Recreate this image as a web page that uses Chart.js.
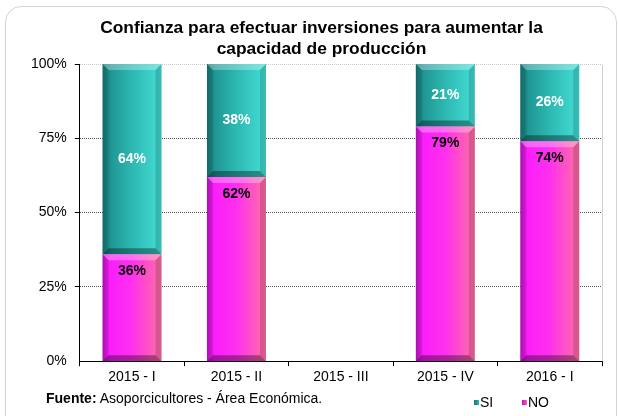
<!DOCTYPE html>
<html>
<head>
<meta charset="utf-8">
<script src="https://cdn.jsdelivr.net/npm/chart.js@4.4.1/dist/chart.umd.min.js"></script>
<style>
  body { margin: 0; background: #fff; font-family: "Liberation Sans", Arial, sans-serif; }
  #wrap { position: relative; width: 618px; height: 416px; overflow: hidden; }
  #frame { position: absolute; left: 5px; top: 6px; width: 610px; height: 430px;
           border: 1px solid #d4d4d4; border-radius: 16px; }
  #titulo { position: absolute; left: 0; top: 17px; width: 643px; text-align: center;
            font-size: 17.4px; font-weight: bold; line-height: 21px; color: #000; }
  #fuente { position: absolute; left: 46px; top: 390px; font-size: 14px; line-height: 16px; color: #000; }
  #leyenda { position: absolute; top: 394px; font-size: 14px; line-height: 16px; color: #000; }
  .item { position: absolute; white-space: nowrap; }
  .sq { display: inline-block; width: 5px; height: 5px; margin-right: 1px; vertical-align: 2px; }
  canvas { position: absolute; left: 0; top: 0; }
</style>
</head>
<body>
<div id="wrap">
  <div id="frame"></div>
  <canvas id="c" width="618" height="416"></canvas>
  <div id="titulo">Confianza para efectuar inversiones para aumentar la<br>capacidad de producción</div>
  <div id="fuente"><b>Fuente:</b> Asoporcicultores - Área Económica.</div>
  <div id="leyenda"></div>
</div>
<script>
const categories = ['2015 - I', '2015 - II', '2015 - III', '2015 - IV', '2016 - I'];
const noValues = [36, 62, null, 79, 74];
const siValues = [64, 38, null, 21, 26];
const yTicks = [0, 25, 50, 75, 100];

const barFrac = 0.565;
const FONT = '"Liberation Sans", Arial, sans-serif';

// degradado horizontal por barra
function barGradient(chart, index, stops) {
  const xs = chart.scales.x;
  if (!xs || !chart.chartArea) return stops[2][1];
  const cx = xs.getPixelForValue(index);
  const w = (xs.width / categories.length) * barFrac;
  const g = chart.ctx.createLinearGradient(cx - w / 2, 0, cx + w / 2, 0);
  stops.forEach(s => g.addColorStop(s[0], s[1]));
  return g;
}
const tealStops = [[0, '#147674'], [0.15, '#209895'], [0.5, '#2db8b2'], [1, '#44ded6']];
const magStops = [[0, '#c010c8'], [0.12, '#fa1efa'], [0.5, '#ff30ee'], [1, '#ff70a2']];

// borde claro del área del gráfico (derecha)
const areaFrame = {
  id: 'areaFrame',
  beforeDatasetsDraw(chart) {
    const a = chart.chartArea, ctx = chart.ctx;
    ctx.save();
    ctx.strokeStyle = '#d0d0d0';
    ctx.lineWidth = 1;
    ctx.beginPath();
    ctx.moveTo(a.right + 0.5, a.bottom);
    ctx.lineTo(a.right + 0.5, a.top + 0.5);
    ctx.stroke();
    ctx.restore();
  }
};

// bisel de las barras
const bevel = {
  id: 'bevel',
  afterDatasetsDraw(chart) {
    const ctx = chart.ctx;
    chart.data.datasets.forEach((ds, di) => {
      chart.getDatasetMeta(di).data.forEach((bar, i) => {
        if (ds.data[i] == null) return;
        const p = bar.getProps(['x', 'y', 'base', 'width'], true);
        const l = p.x - p.width / 2, r = p.x + p.width / 2;
        const t = Math.min(p.y, p.base), b = Math.max(p.y, p.base);
        const e = 6;
        const quad = (pts, col) => {
          ctx.fillStyle = col;
          ctx.beginPath();
          ctx.moveTo(pts[0], pts[1]);
          for (let k = 2; k < pts.length; k += 2) ctx.lineTo(pts[k], pts[k + 1]);
          ctx.closePath();
          ctx.fill();
        };
        ctx.save();
        quad([l, t, r, t, r - e, t + e, l + e, t + e], 'rgba(255,255,255,0.30)');
        quad([l, b, r, b, r - e, b - e, l + e, b - e], 'rgba(0,0,0,0.35)');
        quad([l, t, l + e, t + e, l + e, b - e, l, b], 'rgba(0,0,0,0.10)');
        quad([r, t, r - e, t + e, r - e, b - e, r, b], 'rgba(0,0,0,0.16)');
        ctx.restore();
      });
    });
  }
};

// etiquetas de valor
const valueLabels = {
  id: 'valueLabels',
  afterDatasetsDraw(chart) {
    const ctx = chart.ctx;
    ctx.save();
    ctx.font = 'bold 14px ' + FONT;
    ctx.textAlign = 'center';
    ctx.textBaseline = 'middle';
    chart.data.datasets.forEach((ds, di) => {
      chart.getDatasetMeta(di).data.forEach((bar, i) => {
        const v = ds.data[i];
        if (v == null) return;
        const p = bar.getProps(['x', 'y', 'base'], true);
        if (ds.label === 'NO') {
          ctx.fillStyle = '#000';
          ctx.fillText(v + '%', p.x, p.y + 17);
        } else {
          ctx.fillStyle = '#fff';
          ctx.fillText(v + '%', p.x, (p.y + p.base) / 2);
        }
      });
    });
    ctx.restore();
  }
};

const chart = new Chart(document.getElementById('c').getContext('2d'), {
  type: 'bar',
  data: {
    labels: categories,
    datasets: [
      {
        label: 'NO',
        data: noValues,
        backgroundColor: c => barGradient(c.chart, c.dataIndex, magStops),
        borderWidth: 0,
        categoryPercentage: 1,
        barPercentage: barFrac
      },
      {
        label: 'SI',
        data: siValues,
        backgroundColor: c => barGradient(c.chart, c.dataIndex, tealStops),
        borderWidth: 0,
        categoryPercentage: 1,
        barPercentage: barFrac
      }
    ]
  },
  options: {
    responsive: false,
    animation: false,
    layout: { padding: { left: 23, right: 16, top: 64, bottom: 27 } },
    plugins: {
      title: { display: false },
      legend: { display: false },
      tooltip: { enabled: false }
    },
    scales: {
      x: {
        stacked: true,
        grid: { offset: true, drawOnChartArea: false, drawTicks: true, tickLength: 5, tickColor: '#000' },
        border: { color: '#000', width: 1 },
        ticks: { color: '#000', font: { family: FONT, size: 14 }, padding: 3 }
      },
      y: {
        stacked: true,
        min: 0,
        max: 100,
        afterBuildTicks: axis => { axis.ticks = yTicks.map(v => ({ value: v })); },
        grid: {
          color: c => c.tick && c.tick.value === 100 ? '#c8c8c8' : '#555',
          lineWidth: c => c.tick && c.tick.value === 0 ? 0 : 1,
          tickColor: '#000',
          tickLength: 5,
          tickBorderDash: []
        },
        border: { color: '#000', width: 1, dash: [1, 1] },
        ticks: {
          color: '#000',
          padding: 8,
          font: { family: FONT, size: 14 },
          callback: v => v + '%'
        }
      }
    }
  },
  plugins: [areaFrame, bevel, valueLabels]
});

// leyenda (SI primero, como en el original)
const legendPos = { SI: 474, NO: 522 };
const legendCol = { SI: 'linear-gradient(90deg,#147674,#2db8b2)', NO: 'linear-gradient(90deg,#c010c8,#ff5ec0)' };
const leyenda = document.getElementById('leyenda');
chart.data.datasets.slice().reverse().forEach(ds => {
  const it = document.createElement('span');
  it.className = 'item';
  it.style.left = legendPos[ds.label] + 'px';
  it.innerHTML = '<span class="sq" style="background:' + legendCol[ds.label] + '"></span>' + ds.label;
  leyenda.appendChild(it);
});
</script>
</body>
</html>
